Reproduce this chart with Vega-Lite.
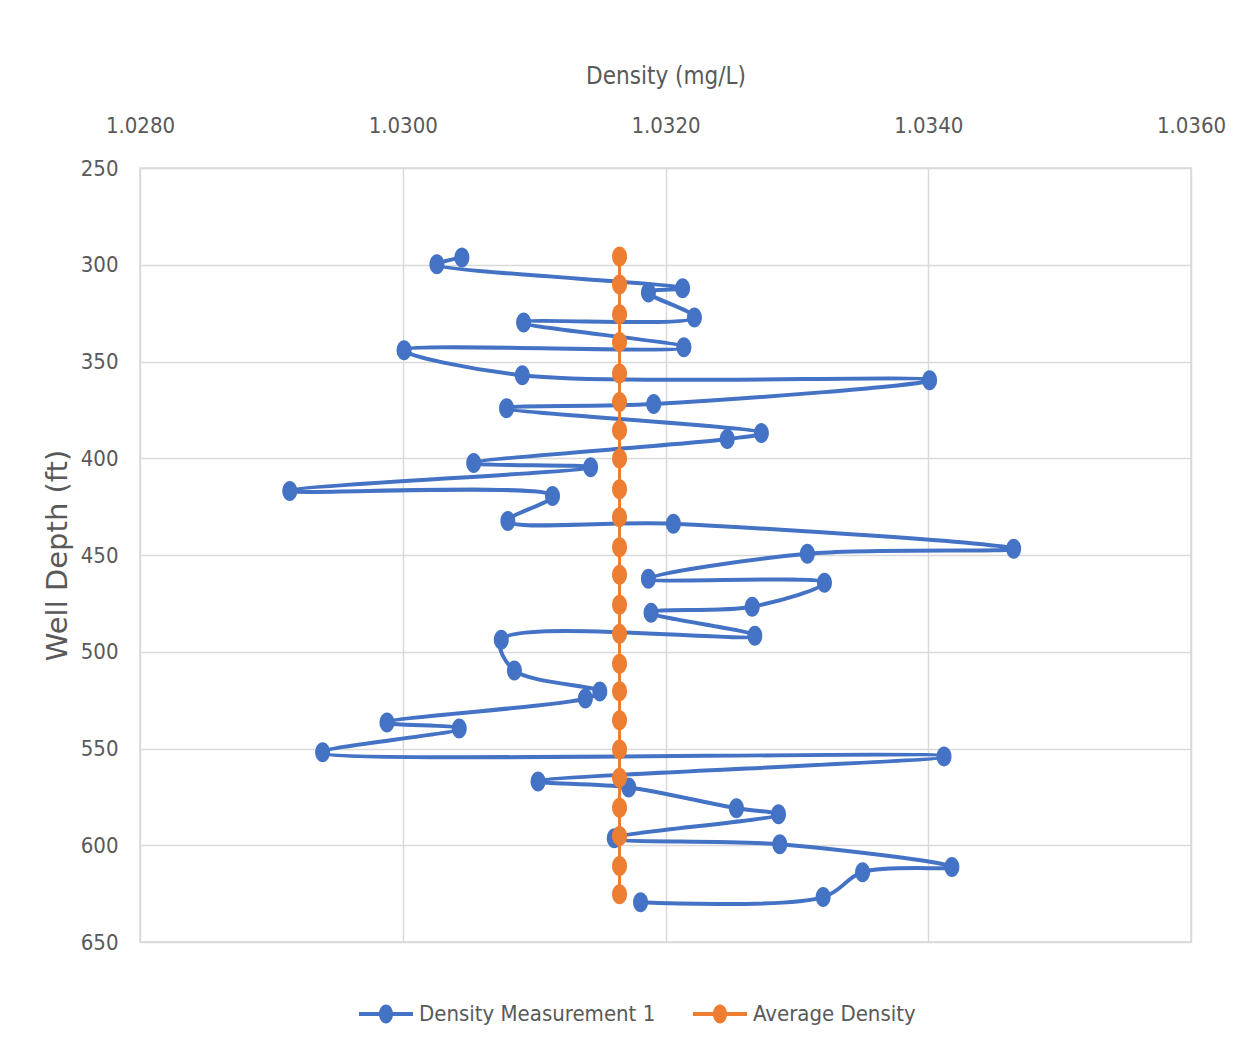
{
  "$schema": "https://vega.github.io/schema/vega-lite/v6.json",
  "autosize": "none",
  "width": 1051,
  "height": 774,
  "padding": {"left": 140, "top": 168, "right": 59, "bottom": 121},
  "background": "white",
  "config": {
    "view": {"stroke": "#d9d9d9", "strokeWidth": 1.5},
    "font": "DejaVu Sans Condensed, Roboto, sans-serif",
    "axis": {
      "labelFont": "DejaVu Sans Condensed, Roboto, sans-serif",
      "labelFontSize": 22,
      "labelColor": "#595959",
      "titleColor": "#595959",
      "gridColor": "#d9d9d9",
      "gridWidth": 1.5,
      "domain": false,
      "ticks": false,
      "tickSize": 0,
      "labelOverlap": false,
      "labelFlush": false
    },
    "legend": {
      "labelFont": "DejaVu Sans Condensed, Roboto, sans-serif",
      "labelFontSize": 22,
      "labelColor": "#595959",
      "labelLimit": 500
    }
  },
  "datasets": {
    "blue": [
      {"density": 1.03045, "depth": 296.2},
      {"density": 1.03026, "depth": 299.8},
      {"density": 1.03213, "depth": 312.2},
      {"density": 1.03187, "depth": 314.3},
      {"density": 1.03222, "depth": 327.2},
      {"density": 1.03092, "depth": 329.8},
      {"density": 1.03214, "depth": 342.7},
      {"density": 1.03001, "depth": 344.2},
      {"density": 1.03091, "depth": 357.1},
      {"density": 1.03401, "depth": 359.7},
      {"density": 1.03191, "depth": 372.0},
      {"density": 1.03079, "depth": 374.1},
      {"density": 1.03273, "depth": 387.0},
      {"density": 1.03247, "depth": 390.1},
      {"density": 1.03054, "depth": 402.5},
      {"density": 1.03143, "depth": 404.6},
      {"density": 1.02914, "depth": 416.9},
      {"density": 1.03114, "depth": 419.5},
      {"density": 1.0308, "depth": 432.4},
      {"density": 1.03206, "depth": 433.9},
      {"density": 1.03465, "depth": 446.8},
      {"density": 1.03308, "depth": 449.4},
      {"density": 1.03187, "depth": 462.3},
      {"density": 1.03321, "depth": 464.4},
      {"density": 1.03266, "depth": 476.7},
      {"density": 1.03189, "depth": 479.8},
      {"density": 1.03268, "depth": 491.7},
      {"density": 1.03075, "depth": 493.8},
      {"density": 1.03085, "depth": 509.7},
      {"density": 1.0315, "depth": 520.6},
      {"density": 1.03139, "depth": 524.2},
      {"density": 1.02988, "depth": 536.6},
      {"density": 1.03043, "depth": 539.7},
      {"density": 1.02939, "depth": 552.0},
      {"density": 1.03412, "depth": 554.1},
      {"density": 1.03103, "depth": 567.0},
      {"density": 1.03172, "depth": 570.1},
      {"density": 1.03254, "depth": 580.9},
      {"density": 1.03286, "depth": 584.0},
      {"density": 1.03161, "depth": 596.4},
      {"density": 1.03287, "depth": 599.5},
      {"density": 1.03418, "depth": 611.3},
      {"density": 1.0335, "depth": 613.9},
      {"density": 1.0332, "depth": 626.8},
      {"density": 1.03181, "depth": 629.4}
    ],
    "orange": [
      {"density": 1.03165, "depth": 295.7},
      {"density": 1.03165, "depth": 310.2},
      {"density": 1.03165, "depth": 325.6},
      {"density": 1.03165, "depth": 339.9},
      {"density": 1.03165, "depth": 356.2},
      {"density": 1.03165, "depth": 370.9},
      {"density": 1.03165, "depth": 385.5},
      {"density": 1.03165, "depth": 400.1},
      {"density": 1.03165, "depth": 416.0},
      {"density": 1.03165, "depth": 430.5},
      {"density": 1.03165, "depth": 446.0},
      {"density": 1.03165, "depth": 460.2},
      {"density": 1.03165, "depth": 475.7},
      {"density": 1.03165, "depth": 490.7},
      {"density": 1.03165, "depth": 506.2},
      {"density": 1.03165, "depth": 520.4},
      {"density": 1.03165, "depth": 535.4},
      {"density": 1.03165, "depth": 550.5},
      {"density": 1.03165, "depth": 565.1},
      {"density": 1.03165, "depth": 580.6},
      {"density": 1.03165, "depth": 595.2},
      {"density": 1.03165, "depth": 610.7},
      {"density": 1.03165, "depth": 625.3}
    ]
  },
  "encoding": {
    "x": {
      "field": "density", "type": "quantitative",
      "scale": {"domain": [1.028, 1.036], "nice": false, "zero": false},
      "axis": {
        "orient": "top", "title": "Density (mg/L)", "values": [1.028, 1.03, 1.032, 1.034, 1.036],
        "format": ".4f", "labelPadding": 31, "titlePadding": 26,
        "titleFont": "DejaVu Sans Condensed, Roboto, sans-serif", "titleFontSize": 24, "titleFontWeight": "normal"
      }
    },
    "y": {
      "field": "depth", "type": "quantitative",
      "scale": {"domain": [250, 650], "reverse": true, "nice": false, "zero": false},
      "axis": {
        "title": "Well Depth (ft)", "values": [250, 300, 350, 400, 450, 500, 550, 600, 650],
        "labelPadding": 22, "titlePadding": 8,
        "titleFont": "DejaVu Sans", "titleFontSize": 29, "titleFontWeight": "normal"
      }
    },
    "color": {
      "field": "series", "type": "nominal",
      "scale": {"domain": ["Density Measurement 1", "Average Density"], "range": ["#4472C4", "#ED7D31"]},
      "legend": {
        "title": null, "orient": "none", "direction": "horizontal",
        "legendX": 235, "legendY": 835, "padding": 0,
        "symbolType": "M-2.7,-0.2H2.7V0.2H-2.7Z M0,-0.95A0.7,0.95 0 1,1 0,0.95A0.7,0.95 0 1,1 0,-0.95Z",
        "symbolSize": 400, "symbolStrokeWidth": 0, "symbolOpacity": 1,
        "labelOffset": 22, "columnPadding": 37,
        "encode": {
          "symbols": {
            "update": {
              "fill": {"scale": "color", "field": "value"},
              "stroke": {"value": "transparent"},
              "opacity": {"value": 1}
            }
          }
        }
      }
    }
  },
  "layer": [
    {
      "data": {"name": "blue"},
      "transform": [{"calculate": "'Density Measurement 1'", "as": "series"}],
      "mark": {"type": "line", "interpolate": "catmull-rom", "strokeWidth": 4},
      "encoding": {"order": {"field": "depth", "type": "quantitative"}}
    },
    {
      "data": {"name": "blue"},
      "transform": [{"calculate": "'Density Measurement 1'", "as": "series"}],
      "mark": {"type": "point", "filled": true, "opacity": 1, "size": 400, "shape": "M0,-1A0.75,1 0 1,1 0,1A0.75,1 0 1,1 0,-1Z"}
    },
    {
      "data": {"name": "orange"},
      "transform": [{"calculate": "'Average Density'", "as": "series"}],
      "mark": {"type": "line", "strokeWidth": 3},
      "encoding": {"order": {"field": "depth", "type": "quantitative"}}
    },
    {
      "data": {"name": "orange"},
      "transform": [{"calculate": "'Average Density'", "as": "series"}],
      "mark": {"type": "point", "filled": true, "opacity": 1, "size": 400, "shape": "M0,-1A0.75,1 0 1,1 0,1A0.75,1 0 1,1 0,-1Z"}
    }
  ]
}
